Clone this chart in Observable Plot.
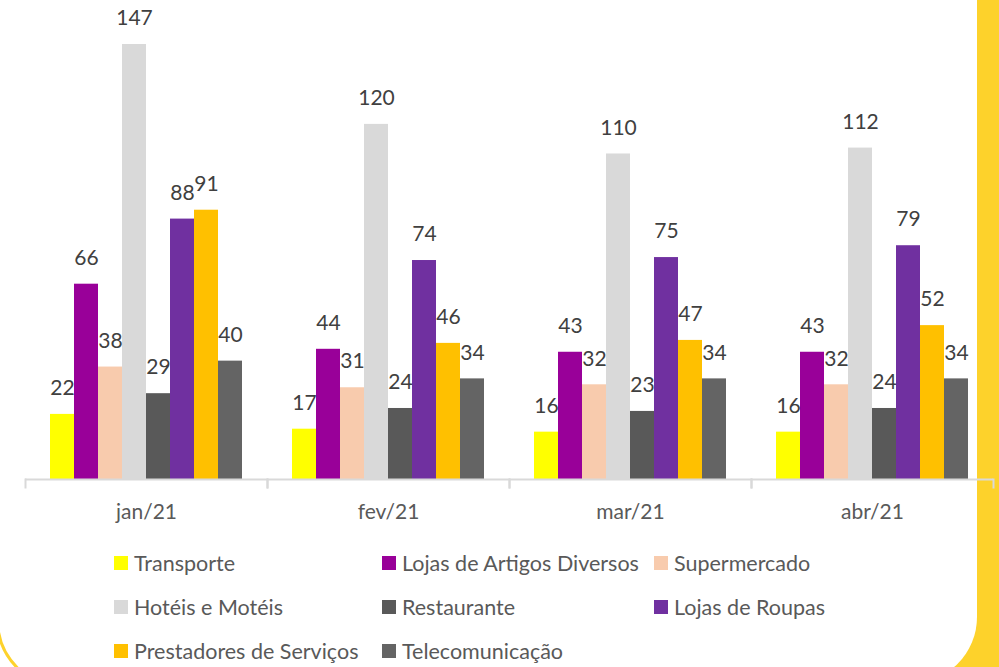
<!DOCTYPE html>
<html>
<head>
<meta charset="utf-8">
<script src="https://cdn.jsdelivr.net/npm/d3@7"></script>
<script src="https://cdn.jsdelivr.net/npm/@observablehq/plot@0.6"></script>
<style>
  body { margin: 0; background: #fff; }
  #wrap { position: relative; width: 999px; height: 667px; overflow: hidden; background: #FDD22B; font-family: Lato, sans-serif; }
  #panel { position: absolute; left: 0; top: 0; width: 977px; height: 683px; background: #fff; border-bottom-right-radius: 66px; }
  #arc { position: absolute; left: -4px; top: -200px; width: 1500px; height: 889px; border: 3px solid #FDD22B; border-radius: 69px; box-sizing: border-box; }
  #chart { position: absolute; left: 0; top: 0; }
  #legend { position: absolute; left: 114px; top: 541px; display: grid; grid-template-columns: 268px 272px auto; grid-auto-rows: 44px; }
  .item { display: flex; align-items: center; gap: 6px; font-size: 21.5px; color: #595959; white-space: nowrap; }
  .sw { width: 14px; height: 14px; flex: none; }
</style>
</head>
<body>
<div id="wrap">
  <div id="panel"></div>
  <div id="arc"></div>
  <div id="chart"></div>
  <div id="legend"></div>
</div>
<script>
const months = ["jan/21", "fev/21", "mar/21", "abr/21"];
const series = ["Transporte", "Lojas de Artigos Diversos", "Supermercado", "Hotéis e Motéis", "Restaurante", "Lojas de Roupas", "Prestadores de Serviços", "Telecomunicação"];
const colors = ["#FFFF00", "#990099", "#F8CBAD", "#D9D9D9", "#595959", "#7030A0", "#FFC000", "#646464"];

const transporte     = [22, 17, 16, 16];
const lojasDiversos  = [66, 44, 43, 43];
const supermercado   = [38, 31, 32, 32];
const hoteis         = [147, 120, 110, 112];
const restaurante    = [29, 24, 23, 24];
const lojasRoupas    = [88, 74, 75, 79];
const prestadores    = [91, 46, 47, 52];
const telecom        = [40, 34, 34, 34];

const values = [transporte, lojasDiversos, supermercado, hoteis, restaurante, lojasRoupas, prestadores, telecom];
const data = months.flatMap((m, i) => series.map((s, j) => ({month: m, series: s, value: values[j][i]})));

const chart = Plot.plot({
  width: 999,
  height: 540,
  marginLeft: 24,
  marginRight: 6,
  marginTop: 44,
  marginBottom: 53,
  style: {fontFamily: "Lato, sans-serif", fontSize: "21px", color: "#595959", background: "transparent", overflow: "visible"},
  fx: {domain: months, padding: 0, label: null},
  x: {domain: series, padding: 0, insetLeft: 25, insetRight: 25, axis: null},
  y: {domain: [0, d3.max(values.flat())], insetBottom: 8, axis: null},
  color: {domain: series, range: colors},
  marks: [
    Plot.barY(data, {fx: "month", x: "series", y: "value", fill: "series"}),
    Plot.text(data, {fx: "month", x: "series", y: "value", text: d => String(d.value), dy: -26, fill: "#404040", fontSize: 21}),
    Plot.ruleY([0], {stroke: "#D9D9D9", strokeWidth: 2}),
    Plot.frame({anchor: "left", insetTop: 435, stroke: "#D9D9D9", strokeWidth: 2}),
    Plot.frame({anchor: "right", insetTop: 435, stroke: "#D9D9D9", strokeWidth: 2}),
    Plot.axisFx({anchor: "bottom", tickSize: 0, tickPadding: 17, fontSize: 21, fill: "#595959", label: null})
  ]
});
document.getElementById("chart").appendChild(chart);

const legend = document.getElementById("legend");
series.forEach((s, i) => {
  const item = document.createElement("div");
  item.className = "item";
  const sw = document.createElement("span");
  sw.className = "sw";
  sw.style.background = colors[i];
  const t = document.createElement("span");
  t.textContent = s;
  item.appendChild(sw);
  item.appendChild(t);
  legend.appendChild(item);
});
</script>
</body>
</html>
